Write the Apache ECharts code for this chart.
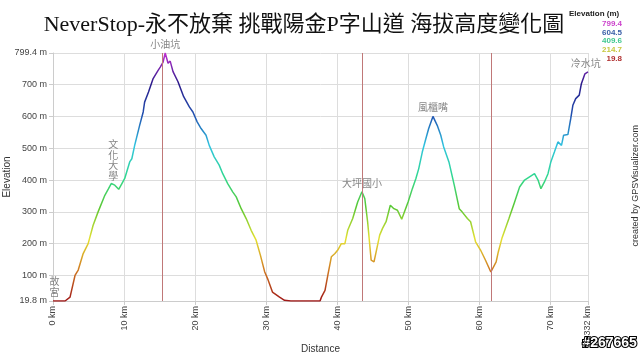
<!DOCTYPE html>
<html>
<head>
<meta charset="utf-8">
<script src="https://cdn.jsdelivr.net/npm/echarts@6/dist/echarts.min.js"></script>
<style>
  html, body { margin: 0; padding: 0; background: #fff; }
  #chart { width: 640px; height: 354px; }
</style>
</head>
<body>
<div id="chart"></div>
<script>
// distance (km) / elevation (m) read from the profile
var dist = [0, 1.7, 2.4, 3.1, 3.55, 4.25, 4.95, 5.65, 6.35, 7.3, 7.8, 8.2, 8.7, 9.25, 9.7, 10.1, 10.8, 11.1, 11.5, 12.2, 12.7, 12.9, 13.45, 14.1, 14.8, 15.1, 15.5, 15.8, 16.2, 16.5, 16.9, 17.6, 18.4, 19.2, 19.7, 20.3, 20.85, 21.55, 22.0, 22.7, 23.4, 23.9, 24.6, 25.3, 25.8, 26.5, 27.2, 27.9, 28.6, 29.2, 29.8, 30.2, 30.9, 31.9, 32.6, 33.5, 36.8, 37.6, 37.8, 38.3, 38.7, 39.2, 39.7, 40.1, 40.6, 41.1, 41.5, 42.2, 42.9, 43.5, 43.9, 44.3, 44.8, 45.2, 45.5, 46.0, 46.4, 46.9, 47.5, 48.0, 48.5, 49.1, 49.4, 50.0, 50.6, 51.1, 51.5, 52.0, 52.5, 52.9, 53.5, 54.1, 54.6, 55.0, 55.75, 56.5, 57.2, 57.6, 58.35, 58.8, 59.5, 60.2, 60.9, 61.65, 61.9, 62.4, 62.7, 63.2, 63.7, 64.2, 65.0, 65.7, 66.4, 67.1, 67.8, 68.3, 68.7, 69.2, 69.7, 70.1, 70.6, 71.1, 71.6, 71.9, 72.5, 72.9, 73.2, 73.6, 74.1, 74.4, 74.9, 75.332]
var elev = [19.8, 19.8, 32, 100, 117, 169, 200, 258, 300, 352, 372, 389, 384, 371, 389, 405, 457, 467, 509, 572, 614, 645, 677, 719, 745, 755, 771, 799.4, 767, 774, 741, 709, 662, 630, 614, 583, 562, 541, 509, 473, 447, 420, 389, 363, 347, 310, 279, 242, 211, 164, 112, 91, 48, 32, 22, 19.8, 20, 19.8, 32, 53, 101, 159, 169, 180, 200, 200, 242, 279, 331, 363, 342, 269, 148, 143, 174, 227, 248, 269, 321, 310, 305, 277, 295, 331, 373, 405, 436, 488, 530, 562, 600, 572, 541, 505, 457, 384, 310, 300, 279, 269, 206, 180, 148, 111, 106, 143, 174, 216, 248, 279, 331, 378, 400, 410, 420, 400, 373, 394, 420, 457, 488, 520, 509, 541, 543, 593, 635, 656, 667, 703, 734, 740]

var yTicks = [19.8, 100, 200, 300, 400, 500, 600, 700, 799.4]
var xTicks = [0, 10, 20, 30, 40, 50, 60, 70, 75.332]

var placeNames = ['故\n宮', '文\n化\n大\n學', '小油坑', '大坪國小', '風櫃嘴', '冷水坑']
var placeDist = [0.2, 8.5, 15.8, 43.5, 53.5, 75.0]
var placeElev = [19.8, 385, 799.4, 363, 600, 740]

var markerDist = [15.35, 43.5, 61.75]

var legendValues = ['799.4', '604.5', '409.6', '214.7', '19.8']
var legendColors = ['#cc44cc', '#3a5fa8', '#40c890', '#c8c840', '#b03030']

var lineData = dist.map(function (d, i) { return [d, elev[i]] })
var placeData = placeDist.map(function (d, i) { return [d, placeElev[i]] })

var labelFont = '"Liberation Sans", Arial, sans-serif'
var serifFont = '"Liberation Serif", "Noto Sans CJK TC", serif'

var myChart = echarts.init(document.getElementById('chart'))

var legendGraphics = [{
    type: 'text', left: 569, top: 10,
    style: { text: 'Elevation (m)', font: 'bold 8px ' + labelFont, fill: '#222' }
}]
legendValues.forEach(function (v, i) {
    legendGraphics.push({
        type: 'text', right: 18, top: 20 + i * 8.6,
        style: { text: v, font: 'bold 8px ' + labelFont, fill: legendColors[i], textAlign: 'right' }
    })
})

myChart.setOption({
    animation: false,
    backgroundColor: '#fff',
    title: {
        text: 'NeverStop-永不放棄 挑戰陽金P字山道 海拔高度變化圖',
        left: 299, top: 9, textAlign: 'center',
        textStyle: { fontFamily: serifFont, fontSize: 22, fontWeight: 'normal', color: '#111' }
    },
    grid: { left: 53, right: 52, top: 53, bottom: 53, outerBoundsMode: 'none', containLabel: false },
    xAxis: {
        type: 'value', min: 0, max: 75.332,
        name: 'Distance', nameLocation: 'middle', nameGap: 43, nameMoveOverlap: false,
        nameTextStyle: { fontFamily: labelFont, fontSize: 10, color: '#333' },
        axisLine: { lineStyle: { color: '#ccc' } },
        axisTick: { show: true, length: 4, lineStyle: { color: '#ccc' }, customValues: xTicks },
        axisLabel: {
            customValues: xTicks, rotate: 90, fontFamily: labelFont, fontSize: 9, color: '#444', margin: 5,
            formatter: function (v) { return v + ' km' }
        },
        splitLine: { show: true, lineStyle: { color: '#ddd' } }
    },
    yAxis: {
        type: 'value', min: 19.8, max: 799.4,
        name: 'Elevation', nameLocation: 'middle', nameGap: 41, nameMoveOverlap: false,
        nameTextStyle: { fontFamily: labelFont, fontSize: 10, color: '#333' },
        axisLine: { show: true, lineStyle: { color: '#ccc' } },
        axisTick: { show: true, length: 4, lineStyle: { color: '#ccc' }, customValues: yTicks },
        axisLabel: {
            customValues: yTicks, fontFamily: labelFont, fontSize: 9, color: '#444', margin: 6,
            formatter: function (v) { return v + ' m' }
        },
        splitLine: { show: true, lineStyle: { color: '#ddd' } }
    },
    visualMap: {
        show: false, type: 'continuous', seriesIndex: 0, dimension: 1,
        min: 19.8, max: 799.4,
        inRange: { color: ['#a01818', '#d07a22', '#e4e032', '#5cc832', '#30d890', '#30c4e0', '#2050b0', '#2a1a8a', '#c030d0'] }
    },
    series: [{
        type: 'line',
        data: lineData,
        symbol: 'none',
        lineStyle: { width: 1.5 },
        markLine: {
            silent: true,
            symbol: ['none', 'none'],
            label: { show: false },
            lineStyle: { color: '#c07878', type: 'solid', width: 1 },
            data: markerDist.map(function (d) { return { xAxis: d } })
        }
    }, {
        type: 'scatter',
        data: placeData,
        symbolSize: 1,
        itemStyle: { color: 'rgba(0,0,0,0)' },
        silent: true,
        label: {
            show: true, position: 'top', distance: 2,
            fontFamily: serifFont, fontSize: 10, color: '#666', lineHeight: 10.5,
            formatter: function (p) { return placeNames[p.dataIndex] }
        }
    }],
    graphic: legendGraphics.concat([{
        type: 'text', left: 631, top: 125, rotation: Math.PI / 2,
        style: { text: 'created by GPSVisualizer.com', font: '9px ' + labelFont, fill: '#333' }
    }, {
        type: 'text', right: 2, bottom: 3,
        style: { text: '#267665', font: 'bold 14px ' + labelFont, fill: '#fff', stroke: '#000', lineWidth: 2.2 }
    }])
})
</script>
</body>
</html>
